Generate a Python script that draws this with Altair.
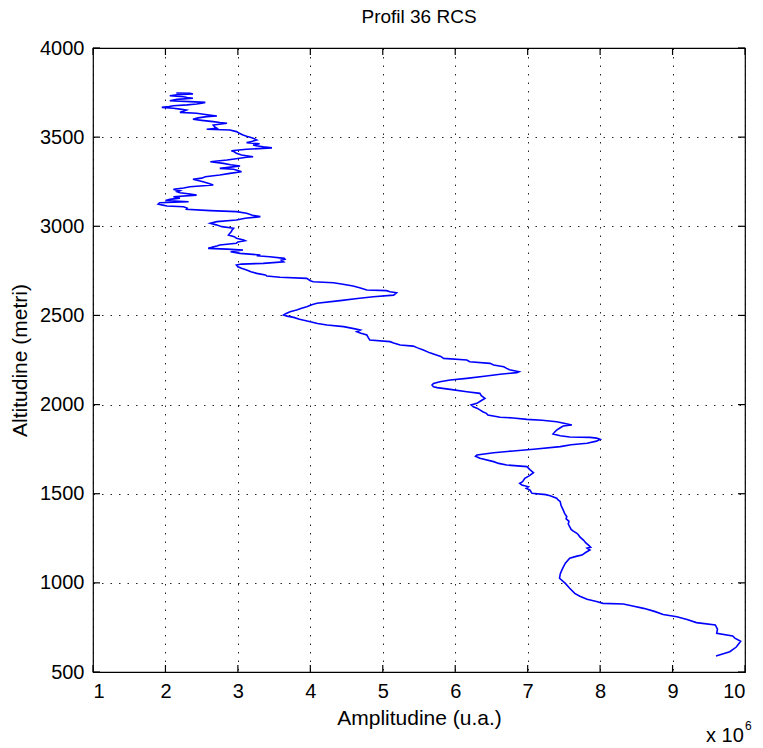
import altair as alt
import pandas as pd

# Altitude (m) and amplitude (x 10^6 u.a.) read from the profile, bottom to top
altitude = [
    590, 614, 640, 672, 690, 702, 717, 740, 764, 777, 795, 810, 823, 840, 857, 870, 881, 885, 895, 908,
    925, 941, 970, 997, 1026, 1050, 1070, 1087, 1110, 1138, 1150, 1156, 1170, 1184, 1195, 1200, 1212, 1225, 1240, 1258,
    1270, 1278, 1290, 1300, 1315, 1330, 1345, 1360, 1371, 1390, 1409, 1418, 1435, 1455, 1465, 1475, 1489, 1495, 1502, 1521,
    1530, 1539, 1549, 1558, 1567, 1586, 1600, 1618, 1635, 1652, 1661, 1670, 1680, 1699, 1710, 1717, 1730, 1740, 1749, 1764,
    1775, 1783, 1795, 1805, 1812, 1816, 1818, 1825, 1835, 1845, 1857, 1870, 1880, 1885, 1895, 1904, 1912, 1917, 1925, 1929,
    1941, 1951, 1960, 1970, 1980, 1988, 1998, 2007, 2020, 2035, 2050, 2063, 2072, 2085, 2095, 2100, 2110, 2119, 2128, 2138,
    2147, 2160, 2170, 2179, 2184, 2195, 2203, 2212, 2222, 2231, 2240, 2250, 2259, 2270, 2278, 2290, 2306, 2318, 2328, 2334,
    2345, 2353, 2362, 2375, 2390, 2400, 2409, 2418, 2426, 2437, 2446, 2455, 2465, 2478, 2489, 2496, 2502, 2510, 2521, 2530,
    2540, 2549, 2560, 2568, 2583, 2595, 2605, 2614, 2627, 2633, 2639, 2643, 2655, 2665, 2675, 2683, 2689, 2695, 2708, 2714,
    2721, 2727, 2736, 2745, 2755, 2765, 2773, 2783, 2788, 2792, 2801, 2810, 2815, 2820, 2829, 2835, 2839, 2848, 2857, 2867,
    2872, 2876, 2884, 2889, 2895, 2905, 2912, 2919, 2923, 2933, 2942, 2951, 2961, 2970, 2980, 2989, 2998, 3008, 3017, 3026,
    3035, 3045, 3054, 3062, 3073, 3082, 3088, 3095, 3102, 3110, 3114, 3120, 3125, 3132, 3138, 3145, 3151, 3158, 3166, 3175,
    3181, 3188, 3194, 3200, 3207, 3215, 3222, 3232, 3240, 3250, 3257, 3264, 3270, 3278, 3288, 3297, 3306, 3313, 3320, 3325,
    3332, 3338, 3345, 3353, 3362, 3368, 3372, 3380, 3387, 3390, 3400, 3409, 3418, 3424, 3432, 3440, 3446, 3452, 3456, 3463,
    3469, 3477, 3484, 3492, 3499, 3505, 3512, 3522, 3531, 3540, 3544, 3550, 3558, 3568, 3578, 3582, 3587, 3594, 3600, 3608,
    3615, 3619, 3627, 3634, 3639, 3645, 3652, 3657, 3662, 3667, 3672, 3676, 3681, 3686, 3690, 3695, 3699, 3704, 3712, 3718,
    3722, 3727, 3732, 3738, 3742, 3746, 3748,
]
amplitude = [
    9.60, 9.79, 9.88, 9.94, 9.86, 9.83, 9.61, 9.62, 9.59, 9.33, 9.20, 9.06, 8.87, 8.75, 8.60, 8.45, 8.32, 8.04, 7.95, 7.82,
    7.72, 7.65, 7.58, 7.52, 7.44, 7.45, 7.47, 7.49, 7.52, 7.58, 7.68, 7.75, 7.80, 7.86, 7.82, 7.87, 7.84, 7.80, 7.77, 7.72,
    7.70, 7.68, 7.63, 7.60, 7.58, 7.56, 7.57, 7.53, 7.54, 7.51, 7.49, 7.48, 7.46, 7.45, 7.42, 7.40, 7.31, 7.25, 7.06, 7.03,
    6.98, 7.01, 6.92, 6.89, 6.93, 6.96, 7.02, 7.08, 7.03, 6.99, 6.71, 6.60, 6.53, 6.34, 6.28, 6.30, 6.53, 6.80, 7.08, 7.45,
    7.60, 7.82, 7.95, 8.00, 7.95, 7.86, 7.58, 7.45, 7.35, 7.37, 7.40, 7.45, 7.49, 7.61, 7.50, 7.40, 7.20, 6.99, 6.80, 6.62,
    6.45, 6.43, 6.38, 6.34, 6.30, 6.25, 6.22, 6.30, 6.35, 6.41, 6.36, 6.34, 6.16, 5.93, 5.75, 5.70, 5.68, 5.70, 5.79, 5.93,
    6.16, 6.43, 6.62, 6.85, 6.88, 6.75, 6.71, 6.67, 6.53, 6.48, 6.20, 6.16, 5.84, 5.80, 5.74, 5.65, 5.56, 5.48, 5.42, 5.24,
    5.15, 5.10, 4.82, 4.80, 4.78, 4.70, 4.64, 4.69, 4.60, 4.46, 4.23, 4.10, 4.00, 3.85, 3.77, 3.68, 3.63, 3.66, 3.72, 3.81,
    3.88, 3.95, 4.02, 4.09, 4.41, 4.65, 4.87, 5.15, 5.19, 5.10, 5.05, 4.78, 4.68, 4.59, 4.45, 4.32, 4.04, 4.00, 3.95, 3.58,
    3.40, 3.38, 3.26, 3.18, 3.12, 3.05, 3.00, 2.98, 3.05, 3.35, 3.63, 3.60, 3.65, 3.64, 3.44, 3.26, 3.31, 3.03, 2.90, 3.07,
    2.85, 2.59, 2.65, 2.71, 2.75, 2.98, 3.00, 3.10, 3.08, 2.98, 2.95, 2.87, 2.89, 2.91, 2.92, 2.94, 2.78, 2.70, 2.62, 2.71,
    2.98, 3.10, 3.31, 3.20, 3.12, 2.98, 2.62, 2.29, 2.30, 2.25, 2.02, 1.95, 1.90, 1.92, 2.32, 2.00, 2.06, 2.20, 2.11, 2.43,
    2.34, 2.20, 2.16, 2.20, 2.11, 2.25, 2.34, 2.66, 2.60, 2.52, 2.45, 2.38, 2.50, 2.55, 2.75, 2.89, 3.05, 3.00, 2.94, 2.75,
    2.90, 3.03, 2.90, 2.80, 2.62, 2.75, 2.85, 3.00, 3.12, 3.21, 3.05, 2.98, 2.95, 2.91, 3.12, 3.47, 3.35, 3.25, 3.21, 3.30,
    3.12, 3.20, 3.26, 3.22, 3.17, 3.12, 3.07, 3.02, 2.98, 2.89, 2.57, 2.71, 2.68, 2.66, 2.85, 2.75, 2.66, 2.50, 2.38, 2.45,
    2.57, 2.71, 2.55, 2.43, 2.20, 2.25, 2.29, 2.20, 2.11, 1.95, 2.05, 2.11, 2.30, 2.43, 2.50, 2.55, 2.34, 2.06, 2.16, 2.38,
    2.30, 2.25, 2.06, 2.16, 2.38, 2.34, 2.15,
]
x_ticks = [1, 2, 3, 4, 5, 6, 7, 8, 9, 10]
y_ticks = [500, 1000, 1500, 2000, 2500, 3000, 3500, 4000]

FONT = "Liberation Sans"
W, H = 652, 624
TICK = 7

df = pd.DataFrame({"i": list(range(len(altitude))), "alt": altitude, "amp": amplitude})
xt = pd.DataFrame({"amp": x_ticks})
yt = pd.DataFrame({"alt": y_ticks})

xs = alt.Scale(domain=[1, 10], nice=False, zero=False)
ys = alt.Scale(domain=[500, 4000], nice=False, zero=False)

grid_style = dict(grid=True, gridColor="#000000", gridDash=[1.5, 7], gridWidth=1, gridOpacity=0.85,
                  ticks=False, domain=False, labelPadding=9, format="d")
x_axis = alt.Axis(values=x_ticks, title="Amplitudine (u.a.)", titlePadding=6, **grid_style)
y_axis = alt.Axis(values=y_ticks, title="Altitudine (metri)", titlePadding=9, **grid_style)

X = alt.X("amp:Q", scale=xs, axis=x_axis)
Y = alt.Y("alt:Q", scale=ys, axis=y_axis)

line = alt.Chart(df).mark_line(color="#0000ff", strokeWidth=1.6).encode(
    x=X, y=Y, order="i:Q",
)

tick_style = dict(color="#000000", strokeWidth=1.2)
bottom = alt.Chart(xt).mark_rule(**tick_style).encode(x=X, y=alt.value(H), y2=alt.value(H - TICK))
top = alt.Chart(xt).mark_rule(**tick_style).encode(x=X, y=alt.value(0), y2=alt.value(TICK))
left = alt.Chart(yt).mark_rule(**tick_style).encode(y=Y, x=alt.value(0), x2=alt.value(TICK))
right = alt.Chart(yt).mark_rule(**tick_style).encode(y=Y, x=alt.value(W), x2=alt.value(W - TICK))

mult = alt.Chart(pd.DataFrame({"t": ["x 10"]})).mark_text(
    font=FONT, fontSize=20, align="left", baseline="middle", color="#000000").encode(
    text="t:N", x=alt.value(613), y=alt.value(688))
expo = alt.Chart(pd.DataFrame({"t": ["6"]})).mark_text(
    font=FONT, fontSize=12, align="left", baseline="middle", color="#000000").encode(
    text="t:N", x=alt.value(652), y=alt.value(678))

chart = alt.layer(line, bottom, top, left, right, mult, expo).properties(
    width=W, height=H,
    background="#ffffff",
    title=alt.TitleParams("Profil 36 RCS", anchor="middle"),
    autosize=alt.AutoSizeParams(type="none"),
    padding={"left": 93, "top": 48, "right": 18, "bottom": 76},
).configure_view(
    stroke="#000000", strokeWidth=1.2
).configure_axis(
    labelFont=FONT, titleFont=FONT, labelFontSize=20, titleFontSize=21,
    labelColor="#000000", titleColor="#000000", titleFontWeight="normal",
).configure_title(
    font=FONT, fontSize=19, fontWeight="normal", color="#000000", offset=11,
)

chart.save("out.html", embed_options={"renderer": "svg", "actions": False})
